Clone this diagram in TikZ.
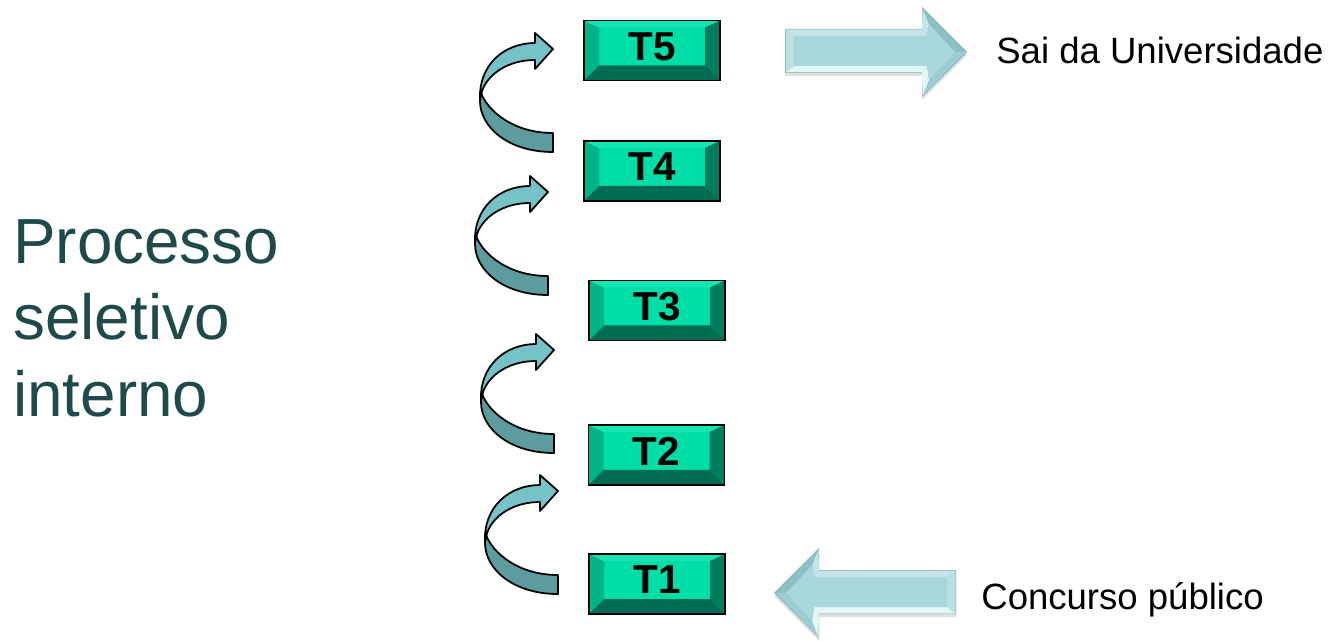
\documentclass[tikz,border=0pt]{standalone}
\usepackage{fontspec}
\setmainfont{Liberation Sans}
\usetikzlibrary{calc}
\definecolor{tface}{RGB}{0,222,168}
\definecolor{ttop}{RGB}{20,229,180}
\definecolor{tleft}{RGB}{0,180,134}
\definecolor{tright}{RGB}{0,125,95}
\definecolor{tbottom}{RGB}{0,108,84}
\definecolor{arrlight}{RGB}{117,195,201}
\definecolor{arrdark}{RGB}{93,156,158}
\definecolor{bface}{RGB}{168,216,220}
\definecolor{btop}{RGB}{196,230,232}
\definecolor{bbottom}{RGB}{226,247,248}
\definecolor{bleft}{RGB}{186,224,227}
\definecolor{bheadup}{RGB}{140,192,197}
\definecolor{bheaddown}{RGB}{155,206,210}
\definecolor{bedge}{RGB}{125,172,176}
\definecolor{proctext}{RGB}{30,74,75}
\begin{document}
\begin{tikzpicture}[x=0.02cm,y=-0.02cm,
  tbox/.style={draw=black, line width=1.1pt, fill=tface,
    minimum width=2.72cm, minimum height=1.2cm, inner sep=0pt,
    text depth=0.16cm,
    font=\bfseries\fontsize{23}{24}\selectfont,
    path picture={
      \coordinate (pa) at (path picture bounding box.south west);
      \coordinate (pb) at (path picture bounding box.north east);
      \fill[tleft] (pa) -- ($(pa)+(0.3cm,0.3cm)$) -- ($(pa|-pb)+(0.3cm,-0.14cm)$) -- (pa|-pb) -- cycle;
      \fill[ttop] (pa|-pb) -- (pb) -- ($(pb)+(-0.3cm,-0.14cm)$) -- ($(pa|-pb)+(0.3cm,-0.14cm)$) -- cycle;
      \fill[tright] (pb) -- (pb|-pa) -- ($(pb|-pa)+(-0.3cm,0.3cm)$) -- ($(pb)+(-0.3cm,-0.14cm)$) -- cycle;
      \fill[tbottom] (pa) -- (pb|-pa) -- ($(pb|-pa)+(-0.3cm,0.3cm)$) -- ($(pa)+(0.3cm,0.3cm)$) -- cycle;
    }},
  curvarr/.pic={
    \filldraw[fill=arrlight, draw=black, line width=1pt, line join=round]
      (-73,52) .. controls (-75,15) and (-48,-6) .. (-18,-6) -- (-18,-16) -- (0,0) -- (-18,20) -- (-18,11)
      .. controls (-45,11) and (-65,25) .. (-71,42) -- cycle;
    \filldraw[fill=arrdark, draw=black, line width=1pt, line join=round]
      (-72,44) .. controls (-65,62) and (-40,84) .. (0,84) -- (0,103)
      .. controls (-45,103) and (-73,78) .. (-73,52) -- cycle;
  },
  bigarrow/.pic={
    \fill[black, opacity=0.12] (785,32) -- (922,32) -- (922,10) -- (967,55) -- (922,100) -- (922,76) -- (785,76) -- cycle;
    \fill[bedge] (785,29) -- (922,29) -- (922,7) -- (967,52) -- (922,97) -- (922,73) -- (785,73) -- cycle;
    \fill[btop] (785.5,29.5) -- (922,29.5) -- (927,36) -- (794,36) -- cycle;
    \fill[btop] (922,29.5) -- (922.5,8) -- (929,24) -- (927,36) -- cycle;
    \fill[bheadup] (922.5,8) -- (966,52) -- (955,52) -- (929,24) -- cycle;
    \fill[bheaddown] (966,52) -- (922.5,96) -- (929,80) -- (955,52) -- cycle;
    \fill[bbottom] (922.5,96) -- (922,72.5) -- (927,66) -- (929,80) -- cycle;
    \fill[bbottom] (922,72.5) -- (785.5,72.5) -- (794,66) -- (927,66) -- cycle;
    \fill[bleft] (785.5,72.5) -- (785.5,29.5) -- (794,36) -- (794,66) -- cycle;
    \fill[bface] (794,36) -- (927,36) -- (929,24) -- (955,52) -- (929,80) -- (927,66) -- (794,66) -- cycle;
  }]
\useasboundingbox (0,0) rectangle (1334,641);
\fill[white] (0,0) rectangle (1334,641);

% stages
\node[tbox] (t5) at (652,50.5) {T5};
\node[tbox] (t4) at (652,171) {T4};
\node[tbox] (t3) at (657,310.5) {T3};
\node[tbox] (t2) at (656.5,455) {T2};
\node[tbox] (t1) at (657,584) {T1};

% curved arrows between stages
\pic (c45) at (553,49) {curvarr};
\pic (c34) at (548,192) {curvarr};
\pic (c23) at (554,350) {curvarr};
\pic (c12) at (558,491) {curvarr};

% entry / exit arrows
\pic (out) at (0,0) {bigarrow};
\pic[xscale=-1] (in) at (1741,541) {bigarrow};

% texts
\node[anchor=base west, inner sep=0pt, font=\fontsize{20.8}{24}\selectfont] (sai) at (996,64) {Sai da Universidade};
\node[anchor=base west, inner sep=0pt, font=\fontsize{20.8}{24}\selectfont] (conc) at (981,609) {Concurso público};
\node[anchor=base west, inner sep=0pt, text=proctext, font=\fontsize{36.3}{43}\selectfont] (p1) at (13,264) {Processo};
\node[anchor=base west, inner sep=0pt, text=proctext, font=\fontsize{36.3}{43}\selectfont] (p2) at (13,340) {seletivo};
\node[anchor=base west, inner sep=0pt, text=proctext, font=\fontsize{36.3}{43}\selectfont] (p3) at (13,417) {interno};
\end{tikzpicture}
\end{document}
